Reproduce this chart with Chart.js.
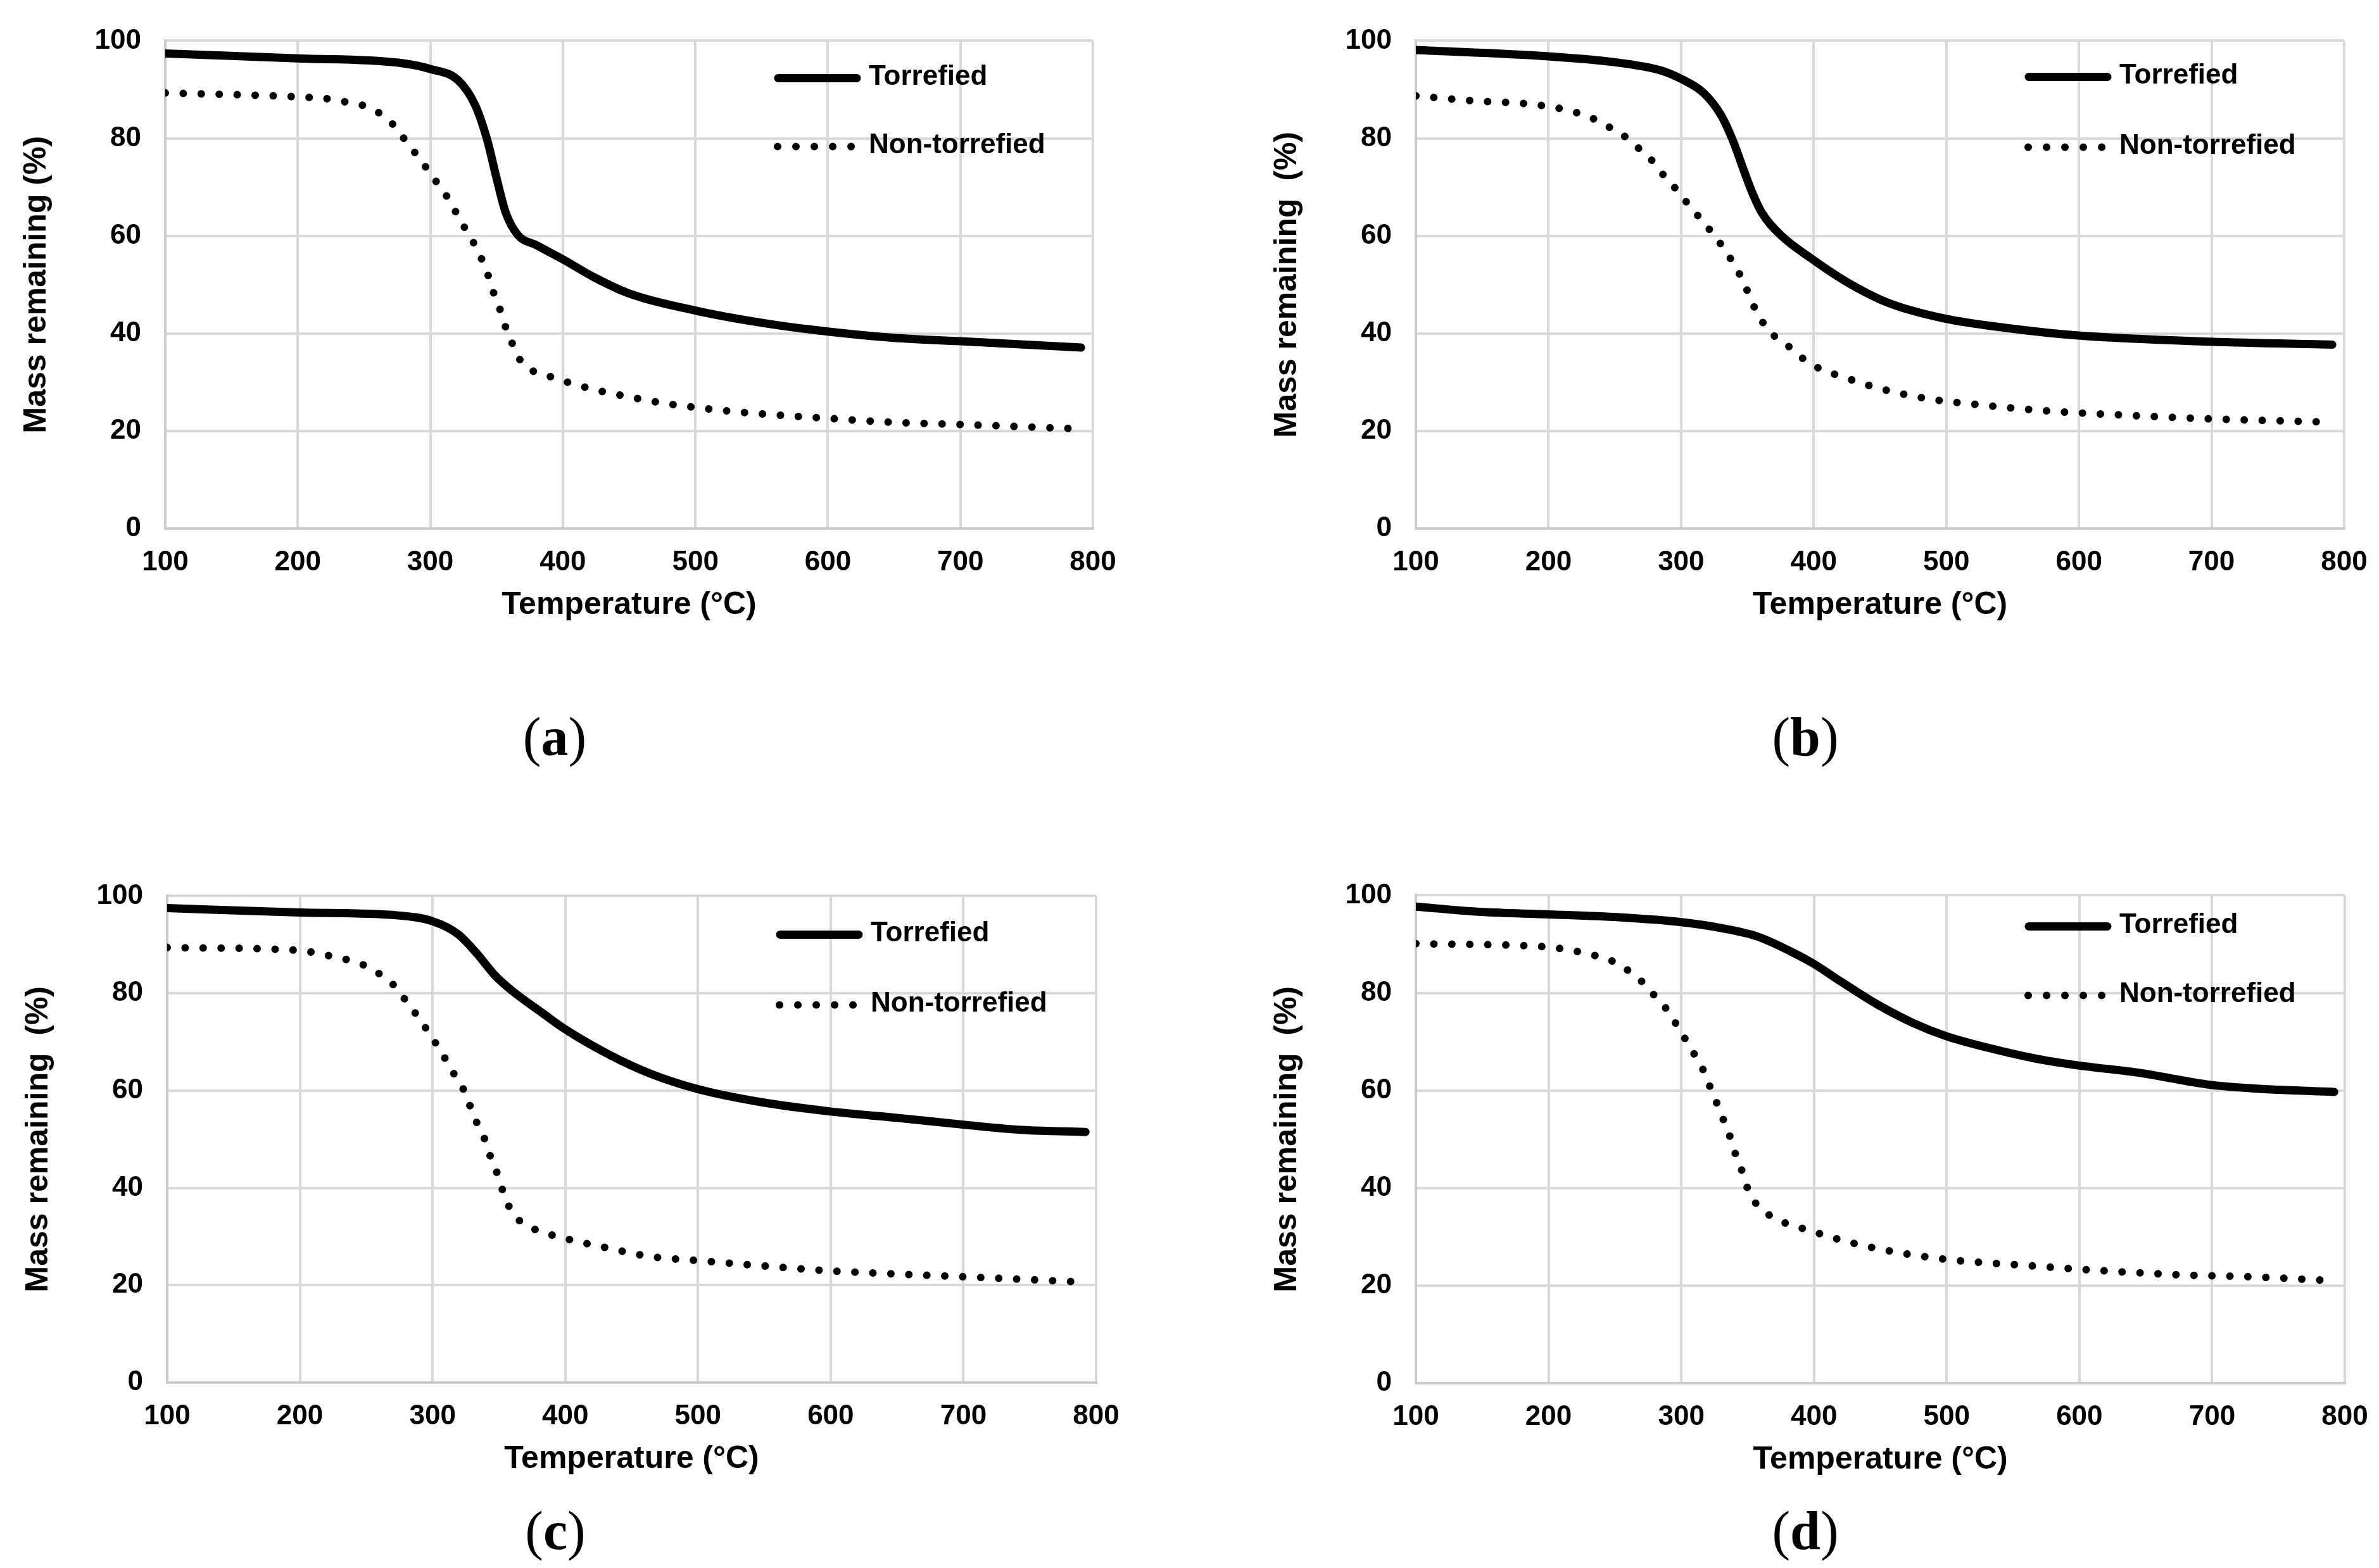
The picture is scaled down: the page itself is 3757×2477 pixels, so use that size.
<!DOCTYPE html>
<html>
<head>
<meta charset="utf-8">
<script src="https://cdn.jsdelivr.net/npm/chart.js@4"></script>
<style>
  html, body { margin:0; padding:0; background:#fff; }
  body { width:3757px; height:2477px; position:relative; overflow:hidden; }
  canvas { position:absolute; }
  .cap { position:absolute; font-family:'Liberation Serif','Times New Roman',serif; font-size:86px; line-height:1; color:#000; transform:translate(-50%,-50%); white-space:nowrap; }
  .cap b { font-weight:bold; }
</style>
</head>
<body>
<div class="cap" style="left:876px;top:1164px">(<b>a</b>)</div>
<div class="cap" style="left:2851px;top:1164px">(<b>b</b>)</div>
<div class="cap" style="left:877px;top:2418px">(<b>c</b>)</div>
<div class="cap" style="left:2851px;top:2418px">(<b>d</b>)</div>
<script>
// ---------- data ----------
const seriesNames = ['Torrefied', 'Non-torrefied'];
const xTickValues = [100, 200, 300, 400, 500, 600, 700, 800];
const yTickValues = [0, 20, 40, 60, 80, 100];

// Panel (a)
const tempA_torr = [100,200,276,300,321,334,343,350,357,366,380,400,423,450,500,550,600,650,700,791];
const massA_torr = [97.4,96.4,95.5,94.2,91.9,86.7,79.6,71.8,64.7,60.2,58.1,55.2,51.6,48.2,44.7,42.2,40.4,39.1,38.4,37.1];
const tempA_non  = [100,200,226,237,251,262,272,280,288,296,304,312,319,325,332,338,343,347,352,356,361,366,375,388,400,425,450,476,501,541,594,648,704,785];
const massA_non  = [89.3,88.5,88.0,87.4,86.6,85.1,82.8,80.0,77.2,74.3,71.3,68.3,65.0,62.1,58.9,55.7,52.4,48.9,45.4,41.9,38.5,35.3,32.7,31.4,30.3,28.4,27.0,25.7,24.8,23.7,22.7,21.8,21.3,20.5];

// Panel (b)
const tempB_torr = [100,200,253,285,300,317,330,339,346,353,361,375,398,424,456,498,546,598,699,791];
const massB_torr = [98.1,96.8,95.5,93.9,92.2,89.3,84.8,79.6,74.4,69.3,64.7,60.2,55.4,50.7,46.3,43.1,41.1,39.6,38.3,37.7];
const tempB_non  = [100,143,183,209,222,234,245,256,266,276,284,293,302,310,319,327,335,342,348,353,359,366,377,388,398,410,422,446,484,524,577,631,698,779];
const massB_non  = [88.7,87.7,87.1,86.1,85.2,84.0,82.4,80.7,78.4,76.1,73.3,70.6,67.6,65.0,62.1,59.4,56.3,53.2,50.0,46.6,43.5,40.5,38.3,35.7,33.7,32.2,31.1,29.0,26.7,25.4,24.1,23.3,22.5,21.9];

// Panel (c)
const tempC_torr = [100,200,274,300,319,333,347,360,383,400,433,464,500,546,600,650,700,745,792];
const massC_torr = [97.5,96.6,96.0,94.8,92.2,88.3,83.7,80.5,75.9,72.6,67.4,63.5,60.3,57.7,55.7,54.4,53.0,51.9,51.5];
const tempC_non  = [100,200,212,224,237,249,261,271,279,287,295,302,309,316,323,328,333,339,343,348,352,357,365,376,400,426,464,503,557,597,650,704,786];
const massC_non  = [89.4,88.8,88.3,87.6,86.8,85.7,83.8,81.6,78.8,75.9,72.8,69.9,66.8,63.5,60.4,57.0,53.6,50.2,46.9,43.5,40.1,36.5,33.4,31.6,29.6,28.0,25.9,25.0,23.8,23.0,22.3,21.7,20.7];

// Panel (d)
const tempD_torr = [100,149,200,253,300,330,357,384,399,421,448,475,499,529,566,600,643,665,683,700,738,792];
const massD_torr = [97.7,96.6,96.1,95.5,94.5,93.3,91.6,88.3,86.1,82.2,77.6,73.8,71.2,68.9,66.6,65.1,63.7,62.7,61.8,61.1,60.3,59.7];
const tempD_non  = [100,200,211,225,237,249,260,270,279,288,295,302,309,316,321,326,331,336,340,345,349,355,364,375,388,400,425,463,502,556,609,676,730,784];
const massD_non  = [90.1,89.4,89.0,88.3,87.5,86.4,84.6,82.4,79.7,77.0,74.1,71.0,67.8,64.5,61.2,57.9,54.5,51.1,47.6,44.1,40.6,37.3,34.9,33.2,32.0,31.0,29.0,26.8,25.3,24.2,23.2,22.2,21.8,21.1];

const xTitle = 'Temperature (°C)';
const yTitleA = 'Mass remaining (%)';
const yTitleBCD = 'Mass remaining  (%)';

// ---------- layout / style ----------
const FONT = "'Liberation Sans', Arial, sans-serif";
const Y_AXIS_W = 261, X_AXIS_H = 151, PAD_TOP = 48, PAD_RIGHT = 80;

const panels = [
  { L:261,  R:1726, T:48,   B:835,  torr:[tempA_torr, massA_torr], non:[tempA_non, massA_non], yTitle:yTitleA,   leg:[59,167] },
  { L:2236, R:3702, T:48,   B:835,  torr:[tempB_torr, massB_torr], non:[tempB_non, massB_non], yTitle:yTitleBCD, leg:[57,168] },
  { L:264,  R:1731, T:1399, B:2184, torr:[tempC_torr, massC_torr], non:[tempC_non, massC_non], yTitle:yTitleBCD, leg:[61,172] },
  { L:2236, R:3703, T:1398, B:2185, torr:[tempD_torr, massD_torr], non:[tempD_non, massD_non], yTitle:yTitleBCD, leg:[49,158] }
];

const xy = (xs, ys) => xs.map((x, i) => ({ x, y: ys[i] }));

const inLegend = {
  id: 'inlegend',
  afterDatasetsDraw(chart, args, opts) {
    const ctx = chart.ctx, ca = chart.chartArea;
    chart.data.datasets.forEach((ds, i) => {
      const y = ca.top + opts.rows[i];
      const seg = opts.segs[i];
      ctx.save();
      ctx.strokeStyle = ds.borderColor;
      ctx.lineWidth = ds.borderWidth;
      ctx.lineCap = 'round';
      ctx.setLineDash(ds.borderDash ? [0.01, 29] : []);
      ctx.beginPath();
      ctx.moveTo(ca.left + seg[0], y);
      ctx.lineTo(ca.left + seg[1], y);
      ctx.stroke();
      ctx.setLineDash([]);
      ctx.fillStyle = '#000';
      ctx.font = 'bold 44px ' + FONT;
      ctx.textBaseline = 'middle';
      ctx.textAlign = 'left';
      ctx.fillText(ds.label, ca.left + opts.tx, y - 2);
      ctx.restore();
    });
  }
};

const tickFont = { family: FONT, size: 44, weight: 'bold' };
const titleFont = { family: FONT, size: 50, weight: 'bold' };

panels.forEach(p => {
  const cv = document.createElement('canvas');
  const w = (p.R - p.L) + Y_AXIS_W + PAD_RIGHT;
  const h = (p.B - p.T) + PAD_TOP + X_AXIS_H;
  cv.width = w; cv.height = h;
  cv.style.width = w + 'px'; cv.style.height = h + 'px';
  cv.style.left = (p.L - Y_AXIS_W) + 'px';
  cv.style.top = (p.T - PAD_TOP) + 'px';
  document.body.appendChild(cv);

  new Chart(cv.getContext('2d'), {
    type: 'line',
    data: {
      datasets: [
        { label: seriesNames[0], data: xy(p.torr[0], p.torr[1]), borderColor: '#000', borderWidth: 13,
          borderCapStyle: 'round', borderJoinStyle: 'round', pointRadius: 0, fill: false,
          cubicInterpolationMode: 'monotone' },
        { label: seriesNames[1], data: xy(p.non[0], p.non[1]), borderColor: '#000', borderWidth: 12,
          borderDash: [0.01, 28.4], borderCapStyle: 'round', borderJoinStyle: 'round', pointRadius: 0, fill: false,
          cubicInterpolationMode: 'monotone' }
      ]
    },
    options: {
      responsive: false,
      devicePixelRatio: 1,
      animation: false,
      layout: { padding: { top: PAD_TOP, right: PAD_RIGHT, left: 0, bottom: 0 } },
      plugins: {
        legend: { display: false },
        tooltip: { enabled: false },
        inlegend: { rows: p.leg, segs: [[968, 1092], [967, 1084]], tx: 1111 }
      },
      scales: {
        x: {
          type: 'linear', min: 100, max: 800,
          afterFit: s => { s.height = X_AXIS_H; },
          afterBuildTicks: s => { s.ticks = xTickValues.map(v => ({ value: v })); },
          ticks: { color: '#000', font: tickFont, padding: 27, maxRotation: 0, autoSkip: false },
          grid: { color: '#d9d9d9', lineWidth: 4, drawTicks: false },
          border: { color: '#cbcbcb', width: 4 },
          title: { display: true, text: xTitle, color: '#000', font: titleFont, padding: { top: 0, bottom: 0 } }
        },
        y: {
          type: 'linear', min: 0, max: 100,
          afterFit: s => { s.width = Y_AXIS_W; },
          afterBuildTicks: s => { s.ticks = yTickValues.map(v => ({ value: v })); },
          ticks: { color: '#000', font: tickFont, padding: 38 },
          grid: { color: '#d9d9d9', lineWidth: 4, drawTicks: false },
          border: { color: '#cbcbcb', width: 4 },
          title: { display: true, text: p.yTitle, color: '#000', font: titleFont, padding: { top: 28, bottom: 0 } }
        }
      }
    },
    plugins: [inLegend]
  });
});
</script>
</body>
</html>
